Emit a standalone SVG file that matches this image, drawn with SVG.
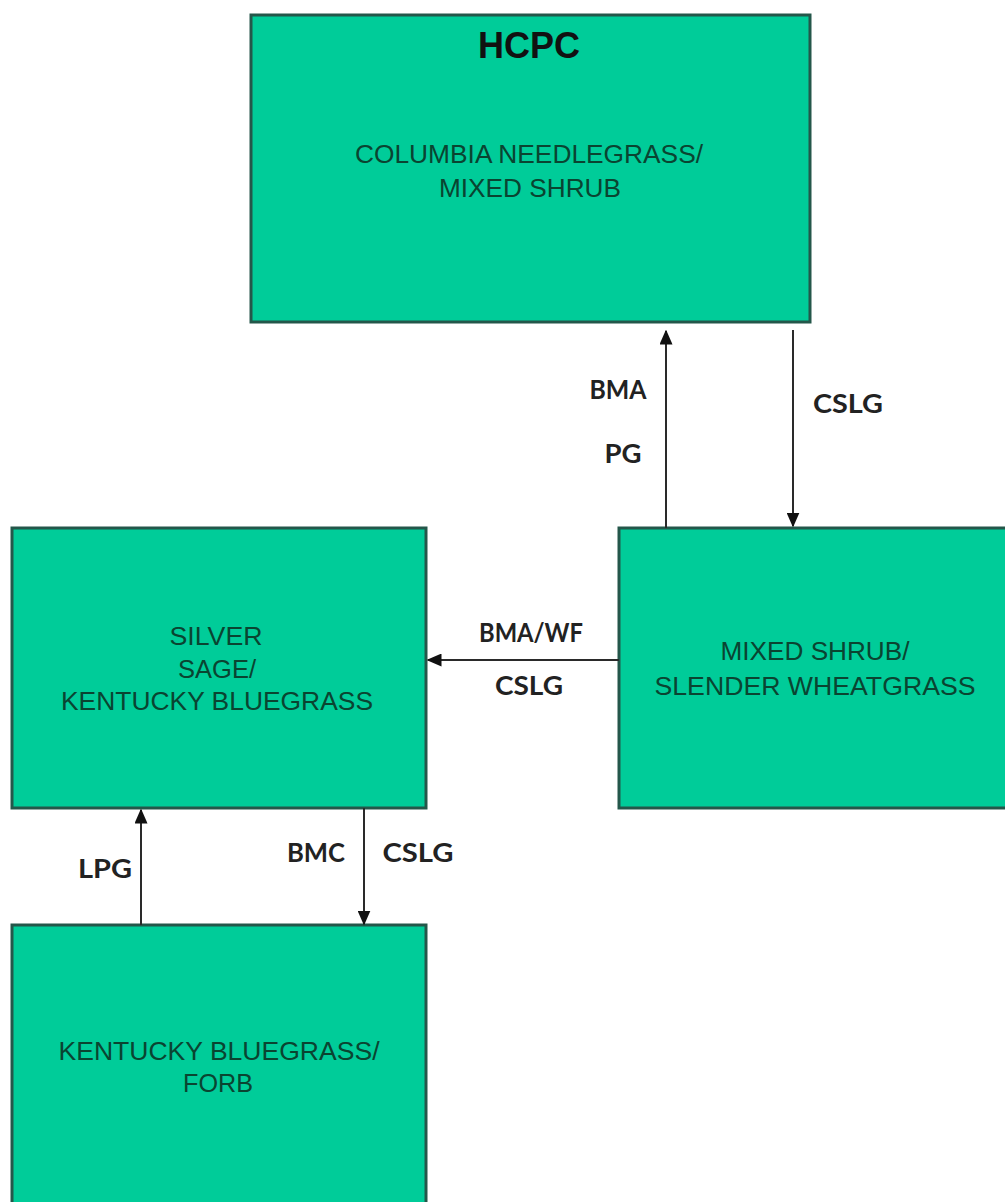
<svg xmlns="http://www.w3.org/2000/svg" width="1005" height="1202" viewBox="0 0 1005 1202">
<style>
.box{fill:#00CC99;stroke:#24574a;stroke-width:3}
.bt{font-family:"Liberation Sans",Arial,sans-serif;font-size:25px;fill:#0a4431;text-anchor:middle}
.lb{font-family:Lato,"Liberation Sans",sans-serif;font-weight:bold;font-size:26px;fill:#222;text-anchor:middle}
.ln{stroke:#2a2a2a;stroke-width:2;fill:none}
</style>
<defs>
<marker id="ah" viewBox="0 0 10 10" refX="9" refY="5" markerWidth="15" markerHeight="13" markerUnits="userSpaceOnUse" orient="auto" preserveAspectRatio="none">
<path d="M0,0 L10,5 L0,10 z" fill="#111"/>
</marker>
</defs>
<rect width="1005" height="1202" fill="#fff"/>
<g id="hcpc">
<rect class="box" x="251" y="15" width="559" height="307"/>
<text x="529" y="58" font-family="Liberation Sans,Arial,sans-serif" font-weight="bold" font-size="36" fill="#111" text-anchor="middle">HCPC</text>
<text class="bt" x="529" y="163" textLength="348" lengthAdjust="spacingAndGlyphs">COLUMBIA NEEDLEGRASS/</text>
<text class="bt" x="530" y="197" textLength="182" lengthAdjust="spacingAndGlyphs">MIXED SHRUB</text>
</g>
<g id="silver">
<rect class="box" x="12" y="528" width="414" height="280"/>
<text class="bt" x="216" y="645" textLength="93" lengthAdjust="spacingAndGlyphs">SILVER</text>
<text class="bt" x="217" y="678" textLength="78" lengthAdjust="spacingAndGlyphs">SAGE/</text>
<text class="bt" x="217" y="710" textLength="312" lengthAdjust="spacingAndGlyphs">KENTUCKY BLUEGRASS</text>
</g>
<g id="mixed">
<rect class="box" x="619" y="528" width="390" height="280"/>
<text class="bt" x="815" y="660" textLength="189" lengthAdjust="spacingAndGlyphs">MIXED SHRUB/</text>
<text class="bt" x="815" y="695" textLength="321" lengthAdjust="spacingAndGlyphs">SLENDER WHEATGRASS</text>
</g>
<g id="kbforb">
<rect class="box" x="12" y="925" width="414" height="285"/>
<text class="bt" x="219" y="1060" textLength="321" lengthAdjust="spacingAndGlyphs">KENTUCKY BLUEGRASS/</text>
<text class="bt" x="218" y="1092" textLength="70" lengthAdjust="spacingAndGlyphs">FORB</text>
</g>
<g id="connectors">
<line class="ln" x1="666" y1="528" x2="666" y2="331" marker-end="url(#ah)"/>
<line class="ln" x1="793" y1="330" x2="793" y2="526" marker-end="url(#ah)"/>
<line class="ln" x1="619" y1="660" x2="428" y2="660" marker-end="url(#ah)"/>
<line class="ln" x1="141" y1="925" x2="141" y2="810" marker-end="url(#ah)"/>
<line class="ln" x1="364" y1="808" x2="364" y2="924" marker-end="url(#ah)"/>
<text class="lb" x="618" y="399" textLength="57" lengthAdjust="spacingAndGlyphs">BMA</text>
<text class="lb" x="623" y="463" textLength="37" lengthAdjust="spacingAndGlyphs">PG</text>
<text class="lb" x="848" y="413" textLength="70" lengthAdjust="spacingAndGlyphs">CSLG</text>
<text class="lb" x="531" y="642" textLength="104" lengthAdjust="spacingAndGlyphs">BMA/WF</text>
<text class="lb" x="529" y="695" textLength="68" lengthAdjust="spacingAndGlyphs">CSLG</text>
<text class="lb" x="105" y="878" textLength="54" lengthAdjust="spacingAndGlyphs">LPG</text>
<text class="lb" x="316" y="862" textLength="58" lengthAdjust="spacingAndGlyphs">BMC</text>
<text class="lb" x="418" y="862" textLength="71" lengthAdjust="spacingAndGlyphs">CSLG</text>
</g>
</svg>
